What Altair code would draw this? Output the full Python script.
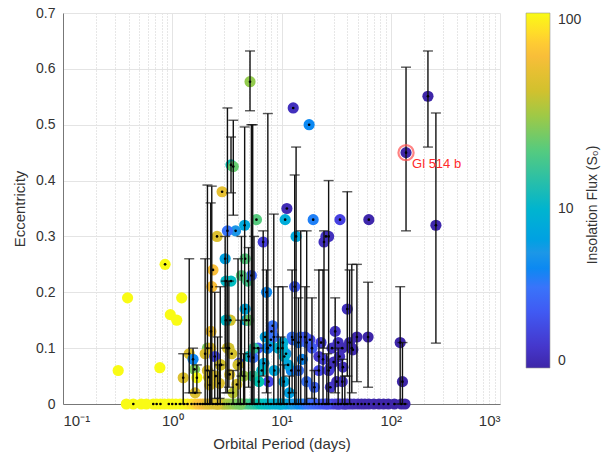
import altair as alt
import pandas as pd
import numpy as np

# ---------------- data ----------------
# planets on the e = 0 row
zero_period = [0.38, 0.44, 0.52, 0.58, 0.67, 0.72, 0.78, 0.85, 0.93, 1.0, 1.08, 1.18, 1.28, 1.38,
               1.5, 1.6, 1.7, 1.8, 1.9, 2.0, 2.1, 2.2, 2.35, 2.5, 2.6, 2.75, 2.9, 3.0, 3.15, 3.3,
               3.5, 3.7, 3.9, 4.1, 4.3, 4.5, 4.8, 5.1, 5.4, 5.7, 6.0, 6.4, 6.8, 7.2, 7.6, 8.0,
               8.5, 9.0, 9.5, 10, 10.6, 11.2, 12, 12.7, 13.5, 14.3, 15.2, 16, 17, 18, 19.2, 20.5,
               22, 23.5, 25, 27, 29, 31, 33, 35, 37.5, 40, 43, 46, 50, 54, 58, 63, 70, 78, 86,
               95, 108, 125, 135]
zero_flux = [150, 150, 150, 150, 150, 150, 150, 150, 140, 130, 120, 110, 100, 95,
             85, 80, 70, 65, 60, 55, 50, 48, 45, 42, 44, 40, 38, 36, 34, 32,
             30, 28, 26, 25, 23, 22, 20, 18, 17, 16, 15, 14, 13, 12, 11, 10.5,
             10, 9.5, 9, 8.5, 8, 7.5, 7, 6.5, 6, 5.5, 5, 4.6, 4.2, 4, 3.7, 3.4,
             3.2, 3, 2.8, 2.6, 2.4, 2.2, 2.1, 2, 1.9, 1.8, 1.8, 1.7, 1.7, 1.6, 1.6, 1.6, 1.6, 1.55, 1.55,
             1.55, 1.55, 1.55, 1.55]
zero_dot = [False, True, False, False, True, True, True, False, True, True, True, True, True, True,
            True, True, True, True, True, True, True, True, True, True, True, True, True, True, True, True,
            True, True, True, True, True, True, True, True, True, True, True, True, True, True, True, True,
            True, True, True, True, True, True, True, True, True, True, True, True, True, True, True, True,
            True, True, True, True, True, True, True, True, True, True, True, True, True, True, True, True, True, True, True,
            True, True, True, True]

# scattered planets without error bars
sc_period = [0.32, 0.39, 0.77, 0.86, 0.96, 1.10, 1.22, 12.8, 17.9, 11.2, 10.8, 19.5, 34.3, 63,
             2.86, 2.57, 3.8, 5.9, 2.36, 4.65, 3.1, 3.45, 4.9, 3.4, 4.65, 4.75, 2.26, 8.3,
             8.1, 7.9, 2.1, 3.2, 3.5, 2.8, 4.1, 1.6, 2.15, 2.5, 3.35, 1.62, 3.9, 5.0, 5.5,
             6.1, 7.1, 7.4, 8.0, 6.9, 6.6, 8.6, 7.6, 12.7, 14.3, 18.2, 23, 29, 33, 36,
             11, 15.5, 22, 27, 28, 30, 34, 12.3, 17, 28, 32, 10.2, 10.6, 11.5, 45, 36.5, 25.5]
sc_ecc = [0.06, 0.19, 0.065, 0.25, 0.16, 0.15, 0.19, 0.53, 0.50, 0.35, 0.33, 0.33, 0.33, 0.33,
          0.38, 0.30, 0.31, 0.33, 0.24, 0.26, 0.22, 0.22, 0.22, 0.15, 0.17, 0.15, 0.13, 0.14,
          0.13, 0.105, 0.10, 0.10, 0.09, 0.07, 0.073, 0.062, 0.048, 0.05, 0.053, 0.02, 0.035, 0.085, 0.083,
          0.10, 0.12, 0.10, 0.115, 0.073, 0.06, 0.06, 0.04, 0.115, 0.11, 0.115, 0.11, 0.10, 0.11, 0.10,
          0.09, 0.08, 0.085, 0.06, 0.065, 0.075, 0.085, 0.06, 0.04, 0.03, 0.04, 0.10, 0.085, 0.07, 0.097, 0.066, 0.30]
sc_flux = [150, 150, 150, 150, 150, 150, 150, 1.8, 5, 1.7, 8.5, 4.5, 2.3, 1.6,
           50, 45, 6, 20, 60, 20, 11, 12, 18, 40, 8, 8, 55, 4,
           3.5, 10, 25, 42, 42, 42, 2.8, 25, 45, 45, 45, 45, 42, 12, 4,
           3, 7, 10, 9, 8, 11, 8, 2.5, 3, 4.5, 2.5, 2.2, 1.9, 1.8, 1.7,
           6, 5, 2, 2, 2.2, 1.8, 1.8, 5, 4, 2, 1.8, 10, 10, 8, 1.7, 1.8, 1.9]
sc_dot = [False, False, False, True, False, False, False, True, True, True, True, True, True, True,
          True, True, True, True, True, True, True, True, True, True, True, True, True, True,
          True, True, True, True, True, True, True, True, True, True, True, True, True, True, True,
          True, True, True, True, True, True, True, True, True, True, True, True, True, True, True,
          True, True, True, True, True, True, True, True, True, True, True, True, True, True, True, True, True]

# planets with error bars (lower / upper eccentricity limits)
eb_period = [5.15, 138, 219, 259, 122, 128, 3.45, 3.62, 3.2, 4.6, 5.3, 5.45, 7.5, 2.1, 2.3, 2.25,
             13.6, 13.2, 27, 40, 24.5, 15, 17, 62, 49, 44, 42, 31, 10.3, 12.5, 14.3, 16.4,
             19, 22, 24, 1.43, 2.0, 2.45, 2.75, 3.05, 3.1, 3.3, 4.3, 4.0, 5.0, 5.6, 6.8,
             7.3, 8.5, 9.3, 1.55, 1.68, 1.26, 2.2, 2.7, 3.6, 4.5, 6.2, 10.5, 11.8, 20, 36,
             38, 9.8, 4.2, 2.6, 26, 33]
eb_ecc = [0.577, 0.45, 0.551, 0.32, 0.11, 0.04, 0.428, 0.425, 0.31, 0.32, 0.23, 0.05, 0.10, 0.06, 0.21, 0.10,
          0.30, 0.21, 0.30, 0.17, 0.29, 0.12, 0.11, 0.12, 0.12, 0.10, 0.11, 0.13, 0.11, 0.12, 0.06, 0.12,
          0.10, 0.06, 0.08, 0.09, 0.09, 0.085, 0.07, 0.26, 0.15, 0.10, 0.23, 0.07, 0.15, 0.10, 0.29,
          0.20, 0.12, 0.10, 0.08, 0.047, 0.047, 0.034, 0.037, 0.02, 0.05, 0.04, 0.04, 0.02, 0.03, 0.04,
          0.0, 0.0, 0.0, 0.0, 0.0, 0.0]
eb_flux = [28, 1.55, 1.55, 1.6, 1.55, 1.55, 13, 22, 4, 8, 3.5, 16, 5, 45, 60, 48,
           8, 3, 1.8, 1.8, 1.8, 4, 3.5, 1.55, 1.6, 1.7, 1.7, 1.9, 9, 4, 4, 3,
           3, 2.5, 2.2, 45, 45, 2.5, 40, 7, 11, 40, 20, 40, 22, 16, 2.2,
           5, 4, 10, 5, 100, 45, 45, 45, 35, 30, 14, 8, 7, 3.4, 1.9,
           1.9, 9, 24, 44, 2.7, 2.1]
eb_lo = [0.525, 0.31, 0.46, 0.109, 0.0, 0.0, 0.378, 0.338, 0.02, 0.0, 0.0, 0.0, 0.0, 0.0, 0.0, 0.0,
         0.0, 0.0, 0.0, 0.05, 0.10, 0.0, 0.0, 0.03, 0.04, 0.02, 0.0, 0.02, 0.0, 0.02, 0.0, 0.0,
         0.01, 0.0, 0.0, 0.02, 0.0, 0.01, 0.0, 0.10, 0.02, 0.03, 0.05, 0.0, 0.03, 0.0, 0.05,
         0.02, 0.0, 0.0, 0.02, 0.02, 0.0, 0.0, 0.01, 0.0, 0.0, 0.0, 0.0, 0.0, 0.0, 0.0,
         0.0, 0.0, 0.0, 0.0, 0.0, 0.0]
eb_hi = [0.632, 0.603, 0.632, 0.521, 0.21, 0.11, 0.478, 0.508, 0.53, 0.496, 0.50, 0.50, 0.52, 0.392, 0.39, 0.36,
         0.46, 0.41, 0.40, 0.38, 0.31, 0.31, 0.31, 0.218, 0.25, 0.25, 0.24, 0.19, 0.21, 0.24, 0.19, 0.21,
         0.19, 0.24, 0.24, 0.26, 0.26, 0.20, 0.21, 0.30, 0.22, 0.22, 0.30, 0.26, 0.28, 0.30, 0.31,
         0.24, 0.34, 0.21, 0.10, 0.07, 0.09, 0.06, 0.07, 0.06, 0.09, 0.10, 0.07, 0.05, 0.06, 0.08,
         0.05, 0.12, 0.15, 0.12, 0.09, 0.10]

label_name = ["Gl 514 b"]
label_period = [138]
label_ecc = [0.45]

x_ticks = [0.1, 1, 10, 100, 1000]
x_tick_labels = ["10⁻¹", "10⁰", "10¹", "10²", "10³"]
y_ticks = [0, 0.1, 0.2, 0.3, 0.4, 0.5, 0.6, 0.7]
cbar_ticks = [1.55, 10, 100]
cbar_labels = ["0", "10", "100"]

parula = ["#3e26a8", "#4746eb", "#3e72fa", "#2399e5", "#07b3d0",
          "#2fc69e", "#7ecc5d", "#d0c12e", "#fcbe3b", "#f9fb15"]

# ---------------- tables ----------------
nan = float("nan")
df_zero = pd.DataFrame({"period": zero_period, "ecc": 0.0, "flux": zero_flux,
                        "lo": nan, "hi": nan, "dot": zero_dot})
df_sc = pd.DataFrame({"period": sc_period, "ecc": sc_ecc, "flux": sc_flux,
                      "lo": nan, "hi": nan, "dot": sc_dot})
df_eb = pd.DataFrame({"period": eb_period, "ecc": eb_ecc, "flux": eb_flux,
                      "lo": eb_lo, "hi": eb_hi, "dot": True})
pts = pd.concat([df_zero, df_sc, df_eb], ignore_index=True)
lab = pd.DataFrame({"name": label_name, "period": label_period, "ecc": label_ecc})

# ---------------- scales / axes ----------------
xscale = alt.Scale(type="log", domain=[0.1, 1000])
yscale = alt.Scale(domain=[0, 0.7])
cdom = list(np.logspace(np.log10(cbar_ticks[0]), np.log10(cbar_ticks[-1]), len(parula)))
cscale = alt.Scale(type="log", domain=cdom, range=parula, clamp=True)

lab_expr = " : ".join(
    [f"abs(log(datum.value)/log(10) - ({int(np.log10(v))})) < 0.01 ? '{t}'" for v, t in zip(x_ticks, x_tick_labels)]
) + " : ''"
x_axis = alt.Axis(values=x_ticks, labelExpr=lab_expr, grid=True, ticks=False, orient="bottom",
                  labelPadding=9, titlePadding=8, title="Orbital Period (days)", labelFontSize=15)
minor_vals = [m * 10.0 ** d for d in range(-1, 3) for m in range(2, 10)]
x_minor = alt.Axis(values=minor_vals, grid=True, gridDash=[1, 2], gridColor="#cfcfcf",
                   labels=False, ticks=False, domain=False, title=None, orient="bottom")
y_axis = alt.Axis(values=y_ticks, format="~g", grid=True, ticks=False, labelPadding=8,
                  titlePadding=8, title="Eccentricity")

cbar_expr = " : ".join(
    [f"abs(datum.value - {v}) < 0.01 ? '{t}'" for v, t in zip(cbar_ticks, cbar_labels)]
) + " : ''"
legend = alt.Legend(title=None, orient="none", legendX=463, legendY=0, direction="vertical",
                    gradientLength=355, gradientThickness=24, values=cbar_ticks,
                    labelExpr=cbar_expr, labelFontSize=14, labelColor="#333",
                    labelFont="Liberation Sans", labelOffset=8, labelOverlap=False,
                    gradientStrokeColor="#999", gradientStrokeWidth=0.6)

X = alt.X("period:Q", scale=xscale, axis=x_axis)
Y = alt.Y("ecc:Q", scale=yscale, axis=y_axis)

base = alt.Chart(pts)

# invisible layer that only carries the dotted minor grid of the log axis
minor_grid = base.mark_rule(opacity=0).encode(
    x=alt.X("period:Q", scale=xscale, axis=x_minor),
)

circles = base.mark_circle(size=125, opacity=1).encode(
    x=X, y=Y, color=alt.Color("flux:Q", scale=cscale, legend=legend)
)

bars_src = base.transform_filter("isValid(datum.lo)")
bars = bars_src.mark_rule(color="#111111", strokeWidth=1.4).encode(
    x="period:Q", y="lo:Q", y2="hi:Q"
)
caps_lo = bars_src.mark_tick(orient="horizontal", size=10, thickness=1.4, color="#111111").encode(
    x="period:Q", y="lo:Q"
)
caps_hi = bars_src.mark_tick(orient="horizontal", size=10, thickness=1.4, color="#111111").encode(
    x="period:Q", y="hi:Q"
)
dots = base.transform_filter("datum.dot").mark_circle(size=7, color="black", opacity=1).encode(
    x="period:Q", y="ecc:Q"
)

ring = alt.Chart(lab).mark_point(shape="circle", size=230, filled=False, stroke="#ff5050",
                                 strokeWidth=2.2, opacity=0.7).encode(x="period:Q", y="ecc:Q")
ring_text = alt.Chart(lab).mark_text(align="left", baseline="middle", dx=6, dy=11,
                                     color="#ff2a2a", fontSize=13, font="Liberation Sans").encode(
    x="period:Q", y="ecc:Q", text="name:N"
)

cbar_title = alt.Chart(pd.DataFrame({"t": ["Insolation Flux (S₀)"]})).mark_text(
    angle=270, fontSize=14, color="#333", font="Liberation Sans", align="center", baseline="middle"
).encode(x=alt.value(530), y=alt.value(192), text="t:N")

main = alt.layer(circles, bars, caps_lo, caps_hi, dots, ring, ring_text, cbar_title)

chart = alt.layer(minor_grid, main).resolve_axis(x="independent").properties(
    width=437, height=391,
    autosize=alt.AutoSizeParams(type="none"),
    padding={"left": 63, "top": 13, "right": 115, "bottom": 58},
).configure_view(stroke=None).configure_axis(
    labelFont="Liberation Sans", titleFont="Liberation Sans",
    labelFontSize=14, titleFontSize=15, labelColor="#333", titleColor="#333",
    titleFontWeight="normal", gridColor="#e4e4e4", gridWidth=1,
    domainColor="#777", domainWidth=1,
)

chart.save("out.html", embed_options={"renderer": "svg", "actions": False})
